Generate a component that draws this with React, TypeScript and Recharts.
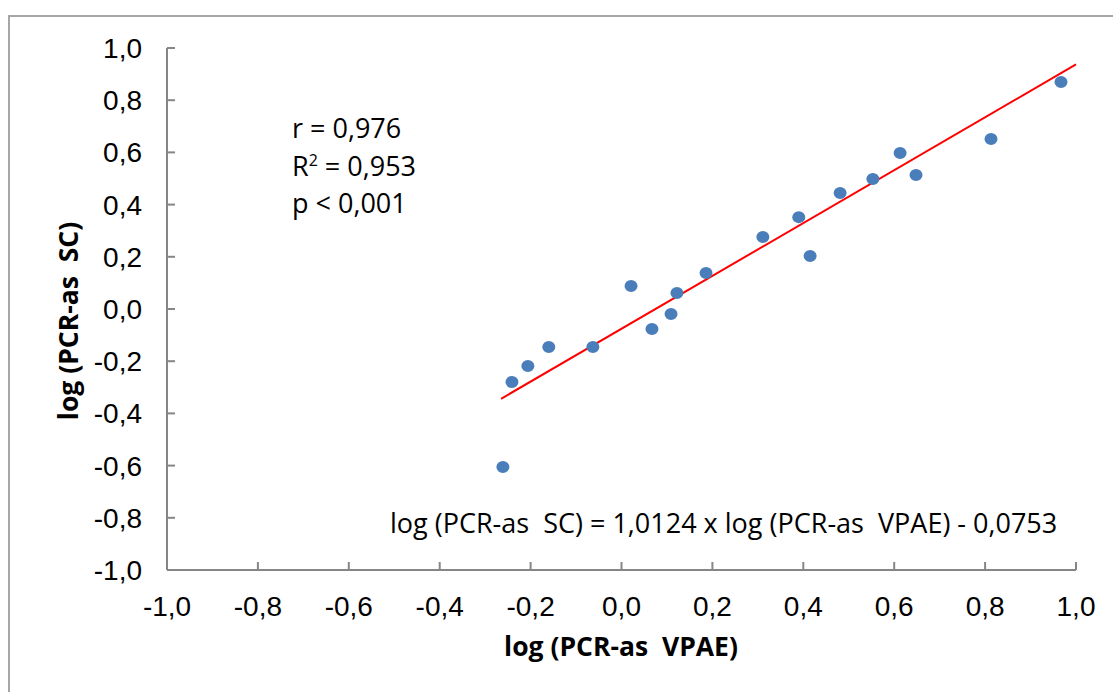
import React from 'react'
import { ScatterChart, Scatter, XAxis, YAxis, ReferenceLine } from 'recharts'

// log-transformierte Messwerte (VPAE vs. SC)
const xValues = [-0.261, -0.241, -0.206, -0.160, -0.063, 0.021, 0.067, 0.109, 0.122, 0.186, 0.311, 0.390, 0.415, 0.481, 0.553, 0.613, 0.648, 0.813, 0.967]
const yValues = [-0.605, -0.280, -0.218, -0.146, -0.146, 0.088, -0.077, -0.019, 0.061, 0.138, 0.276, 0.352, 0.203, 0.444, 0.498, 0.598, 0.513, 0.651, 0.870]
const trendStart = { x: -0.265, y: -0.344 }
const trendEnd = { x: 1.0, y: 0.937 }
const axisTicks = [-1, -0.8, -0.6, -0.4, -0.2, 0, 0.2, 0.4, 0.6, 0.8, 1]

const points = xValues.map((x, i) => ({ x, y: yValues[i] }))

const fmt = (v: number) => v.toFixed(1).replace('.', ',')
const tickStyle = { fontSize: 28, fill: '#000', fontFamily: '"Liberation Sans", Arial, sans-serif' }
const textFont = '"Open Sans", Lato, sans-serif'

export default function App() {
  return (
    <div style={{ position: 'fixed', left: 0, top: 0, width: 1113, height: 692, overflow: 'hidden', background: '#fff' }}>
      <div style={{ position: 'absolute', left: 8, top: 15, right: 0, bottom: 0, borderLeft: '2px solid #a6a6a6', borderTop: '2px solid #a6a6a6' }} />
      <ScatterChart width={1113} height={692} margin={{ top: 48, right: 37, bottom: 62, left: 67 }}>
        <XAxis
          type="number"
          dataKey="x"
          domain={[-1, 1]}
          ticks={axisTicks}
          tickFormatter={fmt}
          tick={tickStyle}
          tickSize={-8}
          tickMargin={34}
          height={60}
          axisLine={{ stroke: '#868686', strokeWidth: 2 }}
          tickLine={{ stroke: '#868686', strokeWidth: 2 }}
        />
        <YAxis
          type="number"
          dataKey="y"
          domain={[-1, 1]}
          ticks={axisTicks}
          tickFormatter={fmt}
          tick={tickStyle}
          tickSize={-8}
          tickMargin={33}
          width={100}
          axisLine={{ stroke: '#868686', strokeWidth: 2 }}
          tickLine={{ stroke: '#868686', strokeWidth: 2 }}
        />
        <ReferenceLine segment={[trendStart, trendEnd]} stroke="#FF0000" strokeWidth={2} />
        <Scatter
          data={points}
          fill="#4A7EBB"
          isAnimationActive={false}
          shape={(p: any) => <ellipse cx={p.cx} cy={p.cy} rx={6.5} ry={6} fill="#4A7EBB" />}
        />
      </ScatterChart>
      <div style={{ position: 'absolute', left: 292, top: 109, fontFamily: textFont, fontSize: 27, lineHeight: '37.5px', color: '#000' }}>
        <div>r = 0,976</div>
        <div>R<sup style={{ fontSize: 16, lineHeight: 0 }}>2</sup> = 0,953</div>
        <div>p &lt; 0,001</div>
      </div>
      <div style={{ position: 'absolute', left: 390, top: 508, fontFamily: textFont, fontSize: 27, lineHeight: '30px', whiteSpace: 'pre', color: '#000' }}>
        log (PCR-as  SC) = 1,0124 x log (PCR-as  VPAE) - 0,0753
      </div>
      <div style={{ position: 'absolute', left: 621, top: 646, transform: 'translate(-50%, -50%)', fontFamily: textFont, fontWeight: 700, fontSize: 26.5, whiteSpace: 'pre', color: '#000' }}>
        log (PCR-as  VPAE)
      </div>
      <div style={{ position: 'absolute', left: 68, top: 321, transform: 'translate(-50%, -50%) rotate(-90deg)', fontFamily: textFont, fontWeight: 700, fontSize: 26.5, whiteSpace: 'pre', color: '#000' }}>
        log (PCR-as  SC)
      </div>
    </div>
  )
}
